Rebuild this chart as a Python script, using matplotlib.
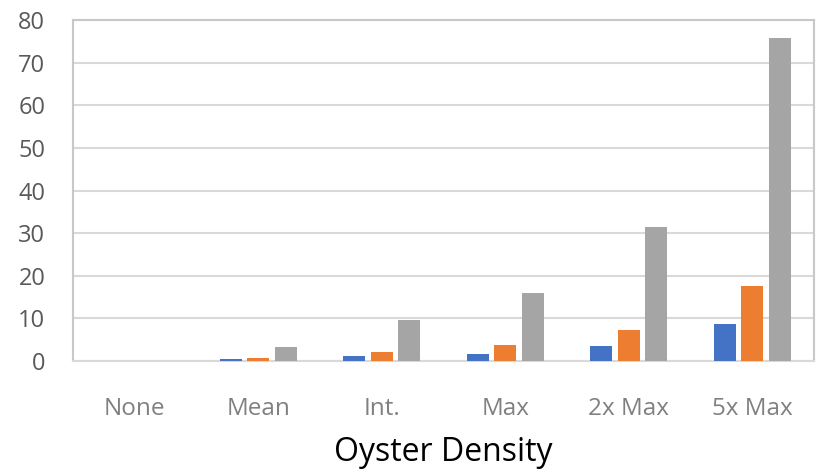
import matplotlib.pyplot as plt
import numpy as np

categories = ['None', 'Mean', 'Int.', 'Max', '2x Max', '5x Max']
series_blue = [0, 0.4, 1.1, 1.7, 3.5, 8.6]
series_orange = [0, 0.8, 2.1, 3.7, 7.3, 17.6]
series_gray = [0, 3.4, 9.6, 15.9, 31.4, 75.7]
y_ticks = [0, 10, 20, 30, 40, 50, 60, 70, 80]

plt.rcParams['font.family'] = ['Open Sans', 'DejaVu Sans']

fig = plt.figure(figsize=(8.16, 4.74), dpi=100)
ax = fig.add_axes([0.0895, 0.2384, 0.908, 0.7194])

x = np.arange(len(categories))
w = 0.178
step = 0.223
ax.bar(x - step, series_blue, w, color='#4472C4', zorder=3)
ax.bar(x, series_orange, w, color='#ED7D31', zorder=3)
ax.bar(x + step, series_gray, w, color='#A5A5A5', zorder=3)

ax.set_xlim(-0.5, len(categories) - 0.5)
ax.set_ylim(0, 80)
ax.set_yticks(y_ticks)
ax.set_xticks(x)
ax.set_xticklabels(categories)
ax.yaxis.grid(True, color='#D9D9D9', linewidth=1.5, zorder=0)
ax.tick_params(axis='both', length=0)
ax.tick_params(axis='y', labelsize=17, labelcolor='#595959', pad=20)
ax.tick_params(axis='x', labelsize=17.5, labelcolor='#808080', pad=26)

for side in ['left', 'top', 'right']:
    ax.spines[side].set_color('#C8C8C8')
    ax.spines[side].set_linewidth(1.5)
ax.spines['bottom'].set_color('#D9D9D9')
ax.spines['bottom'].set_linewidth(1.5)

ax.set_xlabel('Oyster Density', fontsize=23, color='black', labelpad=11)

fig.savefig('out.png', dpi=100)
